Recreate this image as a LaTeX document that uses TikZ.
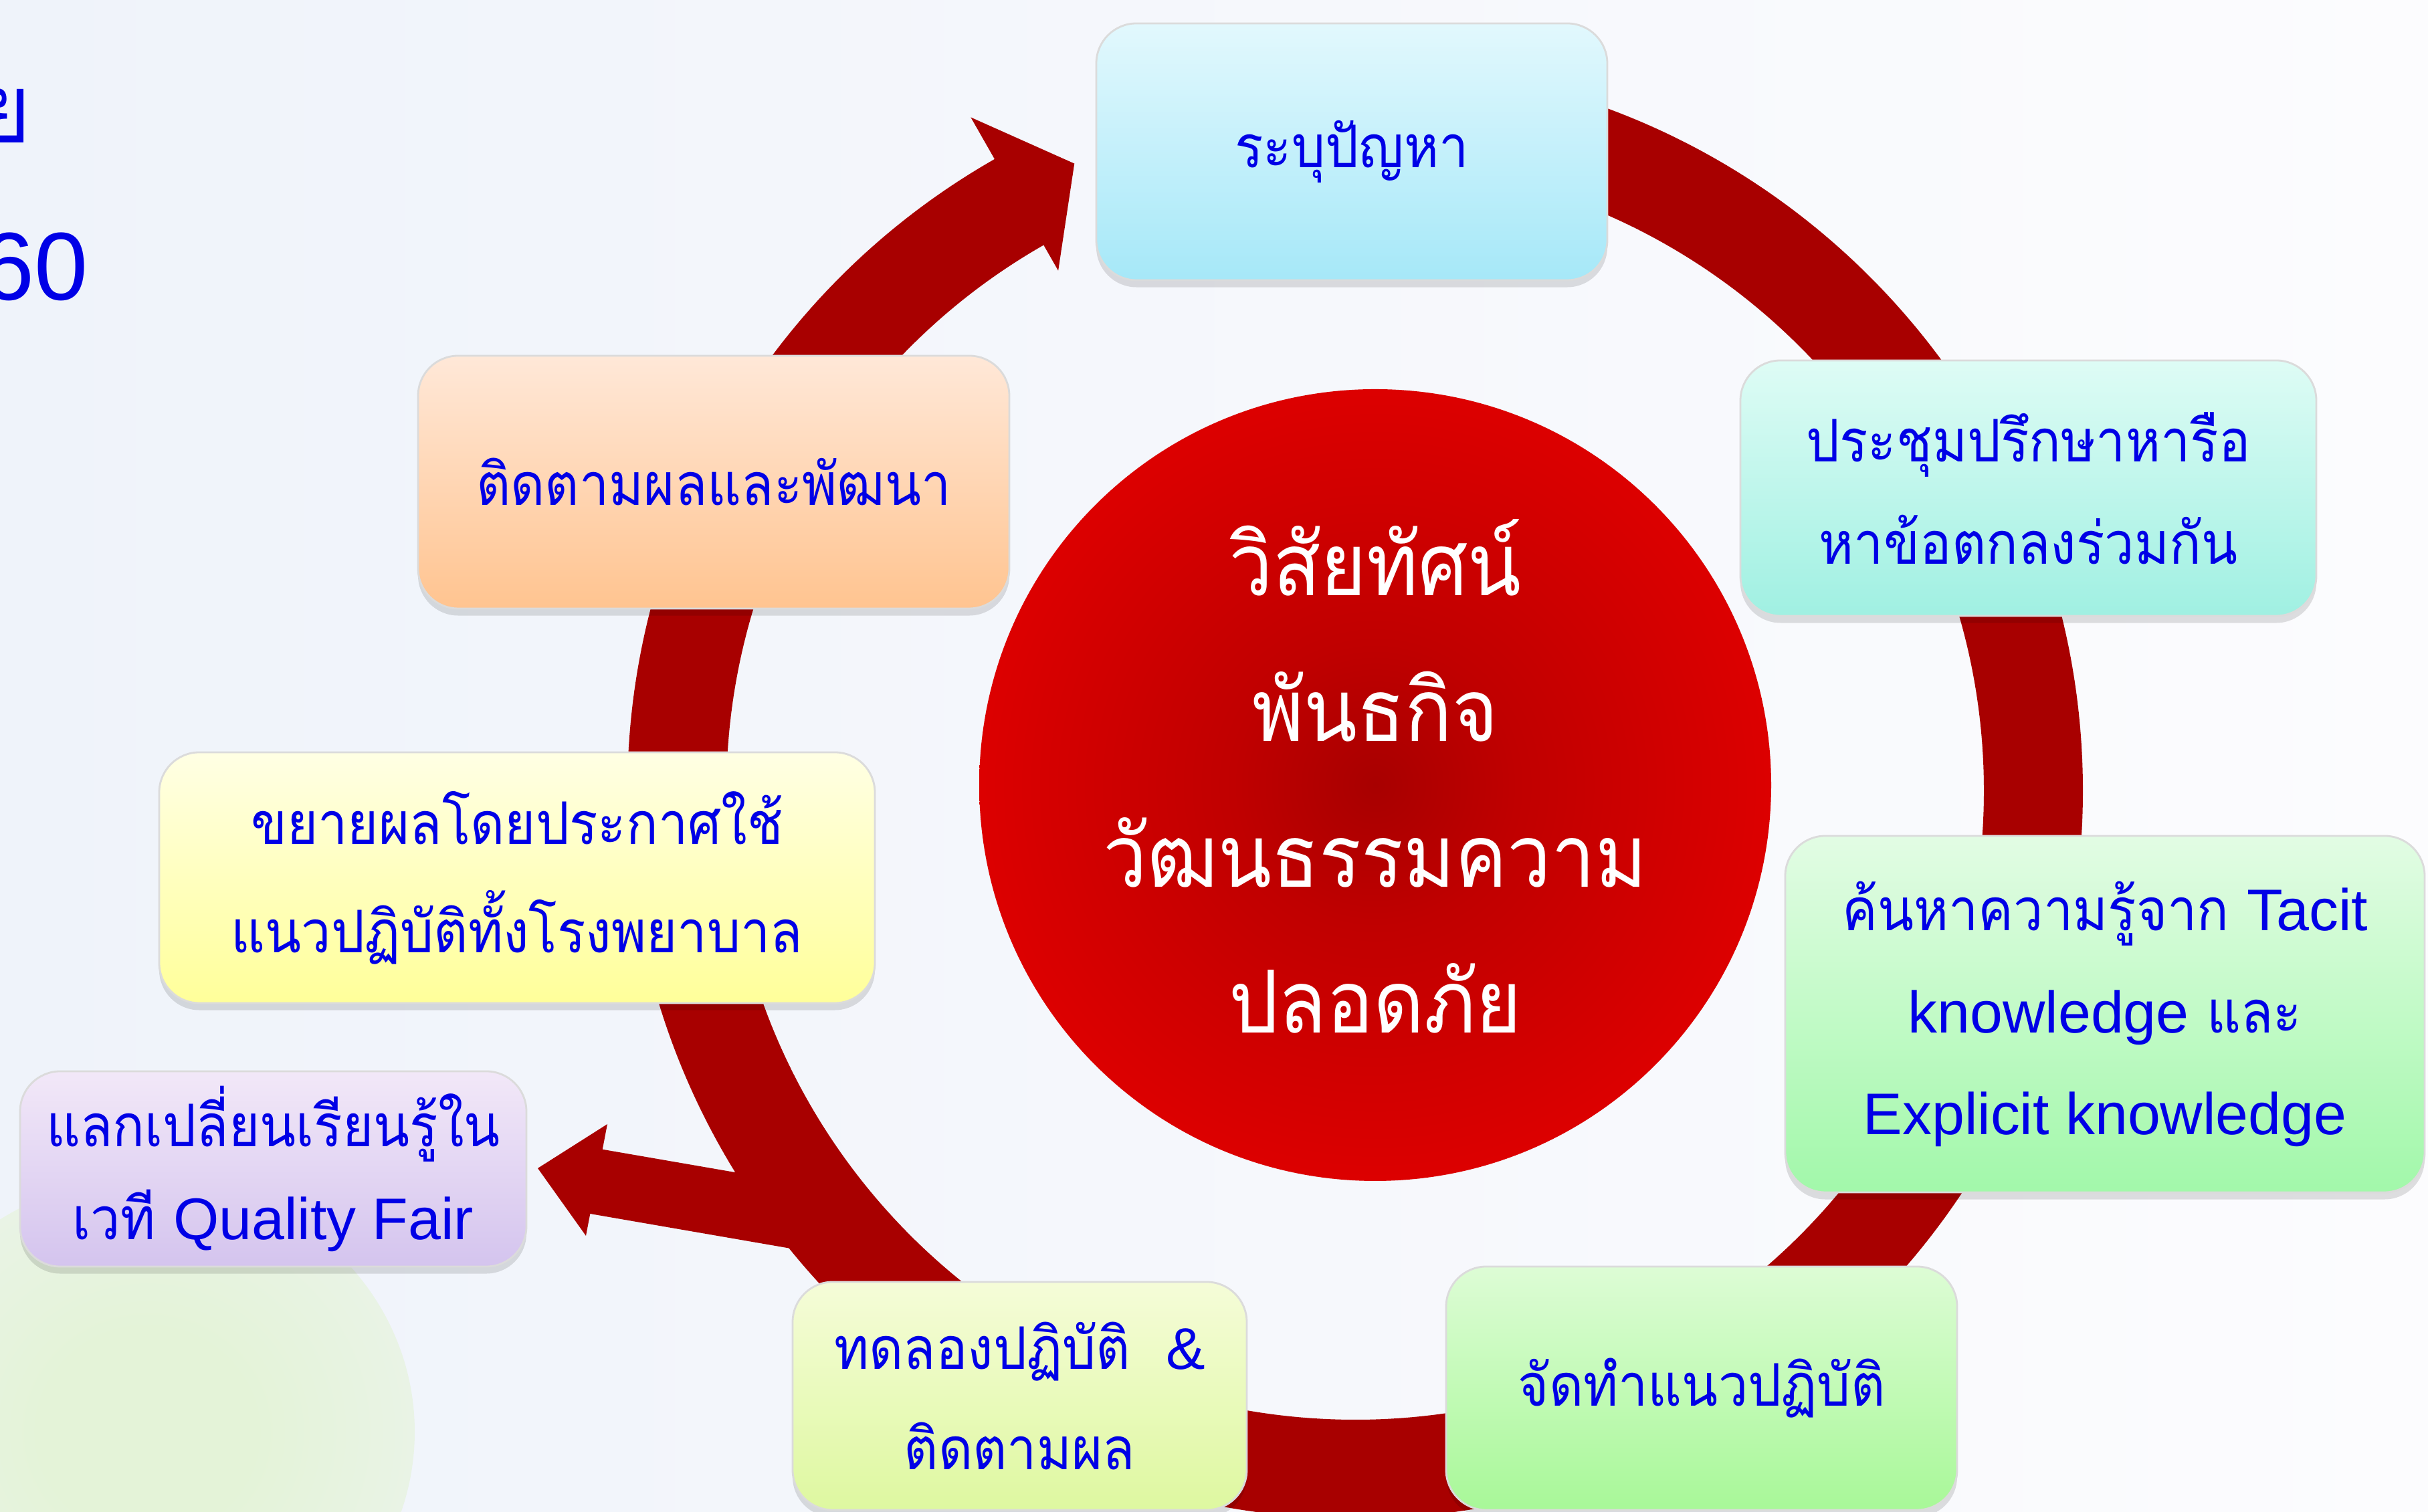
\documentclass[tikz,border=0pt]{standalone}
\usepackage{fontspec}
\newfontfamily\thai[Script=Thai, FakeStretch=0.9]{Loma}
\newfontfamily\lat{Liberation Sans}
\usetikzlibrary{shadows,calc}

\definecolor{bgleft}{HTML}{EFF3FA}
\definecolor{bgright}{HTML}{FCFCFE}
\definecolor{bgblob}{HTML}{F1F4FB}
\definecolor{ringcol}{HTML}{A80000}
\definecolor{txtblue}{RGB}{0,0,230}
\definecolor{rb0}{HTML}{A80000}
\definecolor{rb1}{HTML}{C00000}
\definecolor{rb2}{HTML}{DE0000}
\definecolor{rb3}{HTML}{E41616}
\definecolor{rb4}{HTML}{E83434}
\definecolor{rbedge}{HTML}{F8F9FC}
\definecolor{gb}{HTML}{E4F3D8}

\pgfdeclareradialshading{redball}{\pgfpoint{0bp}{0bp}}{%
  color(0bp)=(rb0); color(9bp)=(rb1); color(26bp)=(rb2); color(39bp)=(rb3);
  color(46bp)=(rb4); color(50bp)=(rbedge)}
\pgfdeclareradialshading{greenblob}{\pgfpoint{0bp}{0bp}}{%
  color(0bp)=(gb); color(10bp)=(gb); color(50bp)=(bgblob)}

\tikzset{
  stepbox/.style={rounded corners=0.6cm, draw=black!14, line width=0.8pt,
    text=txtblue, align=center, inner sep=0pt,
    font=\thai\fontsize{25}{43.5}\selectfont,
    drop shadow={shadow xshift=0pt, shadow yshift=-3pt, opacity=0.12, fill=black}},
  ringline/.style={draw=ringcol, line width=1.48cm},
  headfill/.style={fill=ringcol},
  balltext/.style={text=white, align=center, inner sep=0pt,
    font=\thai\fontsize{37}{62}\selectfont},
  titletext/.style={text=txtblue, inner sep=0pt, anchor=east}
}

\begin{document}
\begin{tikzpicture}
\useasboundingbox (0,0) rectangle (36.30,22.61);
% background
\shade[left color=bgleft, right color=bgright] (0,0) rectangle (36.30,22.61);
\shade[shading=greenblob] (2.2,1.2) ellipse[x radius=4.0, y radius=3.8];

% title fragments
\node[titletext, font=\thai\fontsize{41}{41}\selectfont] (t1) at (0.47,20.88) {ย};
\node[titletext, font=\lat\fontsize{41}{41}\selectfont] (t2) at (1.32,18.62) {60};

% ring
\coordinate (ringc) at (20.26,10.78);
\coordinate (rstart) at ($(ringc)+(88:10.14)$);
\draw[ringline] (rstart) arc[start angle=88, end angle=-240.6, radius=10.14];
\coordinate (h1a) at ($(ringc)+(119.7:11.60)$);
\coordinate (h1t) at ($(ringc)+(114.1:10.28)$);
\coordinate (h1b) at ($(ringc)+(119.7:8.96)$);
\fill[headfill] (h1a) -- (h1t) -- (h1b) -- cycle;

% branch arrow to Quality Fair
\coordinate (bj) at (12.27,4.36);
\coordinate (bb) at (8.88,4.947);
\draw[draw=ringcol, line width=0.98cm] (bj) -- (bb);
\coordinate (h2a) at (9.08,5.80);
\coordinate (h2t) at (8.04,5.14);
\coordinate (h2b) at (8.76,4.13);
\fill[headfill] (h2a) -- (h2t) -- (h2b) -- cycle;

% central ball
\coordinate (ballc) at (20.56,10.87);
\shade[shading=redball] (ballc) circle[radius=5.92];
\node[balltext] (vision) at (20.56,11.0)
  {วิสัยทัศน์\\พันธกิจ\\วัฒนธรรมความ\\ปลอดภัย};

% boxes
\node[stepbox, minimum width=7.64cm, minimum height=3.84cm,
  top color={rgb,255:red,226;green,248;blue,253}, bottom color={rgb,255:red,166;green,232;blue,248}] (n1) at (20.21,20.34)
  {ระบุปัญหา};
\node[stepbox, minimum width=8.61cm, minimum height=3.82cm,
  top color={rgb,255:red,222;green,252;blue,245}, bottom color={rgb,255:red,160;green,240;blue,226}] (n2) at (30.325,15.31)
  {ประชุมปรึกษาหารือ\\หาข้อตกลงร่วมกัน};
\node[stepbox, minimum width=9.56cm, minimum height=5.33cm,
  top color={rgb,255:red,226;green,252;blue,228}, bottom color={rgb,255:red,162;green,248;blue,170}] (n3) at (31.47,7.445)
  {ค้นหาความรู้จาก {\lat Tacit}\\{\lat knowledge} และ\\{\lat Explicit knowledge}};
\node[stepbox, minimum width=7.64cm, minimum height=3.64cm,
  top color={rgb,255:red,221;green,252;blue,213}, bottom color={rgb,255:red,168;green,248;blue,152}] (n4) at (25.44,1.85)
  {จัดทำแนวปฏิบัติ};
\node[stepbox, minimum width=6.79cm, minimum height=3.41cm,
  font=\thai\fontsize{25}{42.7}\selectfont,
  top color={rgb,255:red,245;green,252;blue,216}, bottom color={rgb,255:red,222;green,248;blue,160}] (n5) at (15.245,1.735)
  {ทดลองปฏิบัติ\ \ {\lat\&}\\ติดตามผล};
\node[stepbox, minimum width=7.57cm, minimum height=2.92cm,
  font=\thai\fontsize{25}{39.5}\selectfont,
  top color={rgb,255:red,242;green,232;blue,248}, bottom color={rgb,255:red,212;green,196;blue,238}] (n6) at (4.085,5.13)
  {แลกเปลี่ยนเรียนรู้ใน\\เวที {\lat Quality Fair}};
\node[stepbox, minimum width=10.70cm, minimum height=3.75cm,
  font=\thai\fontsize{25}{46}\selectfont,
  top color={rgb,255:red,255;green,255;blue,228}, bottom color={rgb,255:red,255;green,255;blue,154}] (n7) at (7.73,9.485)
  {ขยายผลโดยประกาศใช้\\แนวปฏิบัติทั้งโรงพยาบาล};
\node[stepbox, minimum width=8.84cm, minimum height=3.78cm,
  top color={rgb,255:red,255;green,232;blue,216}, bottom color={rgb,255:red,255;green,196;blue,144}] (n8) at (10.67,15.40)
  {ติดตามผลและพัฒนา};
\end{tikzpicture}
\end{document}
